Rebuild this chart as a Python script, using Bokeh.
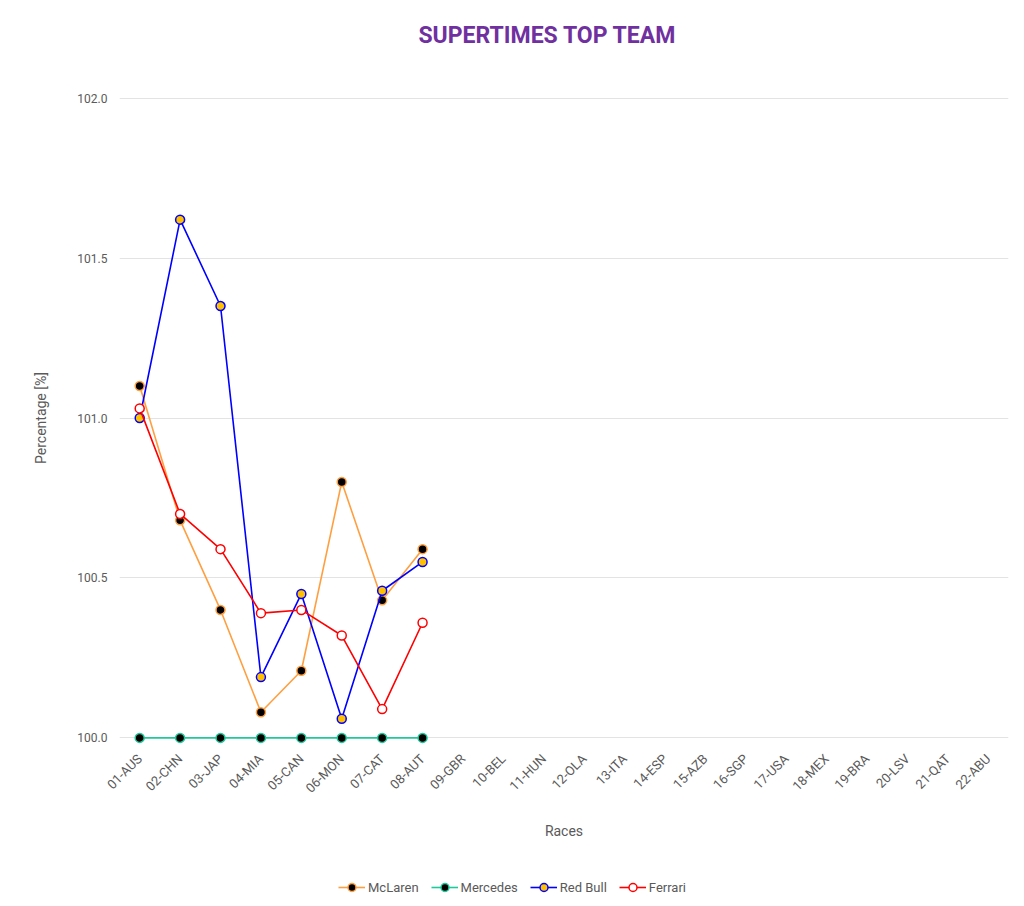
from bokeh.plotting import figure
from bokeh.layouts import column
from bokeh.models import (Range1d, FactorRange, FixedTicker, PrintfTickFormatter,
                          Legend, LegendItem, ColumnDataSource, Label)
from bokeh.embed import file_html
from bokeh.resources import INLINE

races = ["01-AUS", "02-CHN", "03-JAP", "04-MIA", "05-CAN", "06-MON", "07-CAT", "08-AUT",
         "09-GBR", "10-BEL", "11-HUN", "12-OLA", "13-ITA", "14-ESP", "15-AZB", "16-SGP",
         "17-USA", "18-MEX", "19-BRA", "20-LSV", "21-QAT", "22-ABU"]
done = races[:8]
mclaren = [101.10, 100.68, 100.40, 100.08, 100.21, 100.80, 100.43, 100.59]
mercedes = [100.0, 100.0, 100.0, 100.0, 100.0, 100.0, 100.0, 100.0]
redbull = [101.00, 101.62, 101.35, 100.19, 100.45, 100.06, 100.46, 100.55]
ferrari = [101.03, 100.70, 100.59, 100.39, 100.40, 100.32, 100.09, 100.36]
y_ticks = [100.0, 100.5, 101.0, 101.5, 102.0]
title_text = "SUPERTIMES TOP TEAM"

FONT = "Roboto"
GREY = "#5a5a5a"


def strip(h):
    f = figure(width=1016, height=h, x_range=FactorRange(*races), y_range=Range1d(0, 1),
               x_axis_type=None, y_axis_type=None, output_backend="svg",
               toolbar_location=None, min_border=0)
    f.outline_line_color = None
    f.xgrid.visible = False
    f.ygrid.visible = False
    return f


# title strip
tf = strip(60)
tf.add_layout(Label(x=428, y=25, x_units="screen", y_units="screen", text=title_text,
                    text_align="center", text_baseline="middle", text_font=FONT,
                    text_font_style="bold", text_font_size="23px", text_color="#7030A0"))

p = figure(frame_width=889, frame_height=659, x_range=FactorRange(*races),
           y_range=Range1d(99.97, 102.03), output_backend="svg",
           toolbar_location=None,
           min_border_left=119, min_border_right=8, min_border_top=28,
           min_border_bottom=120)

p.outline_line_color = None
p.xgrid.grid_line_color = None
p.ygrid.grid_line_color = "#e3e3e3"
p.ygrid.grid_line_width = 1

p.yaxis.ticker = FixedTicker(ticks=y_ticks)
p.yaxis.formatter = PrintfTickFormatter(format="%.1f")
for ax in (p.xaxis[0], p.yaxis[0]):
    ax.axis_line_color = None
    ax.major_tick_line_color = None
    ax.minor_tick_line_color = None
    ax.major_label_text_color = GREY
    ax.major_label_text_font = FONT
    ax.major_label_text_font_size = "12px"
    ax.axis_label_text_color = GREY
    ax.axis_label_text_font = FONT
    ax.axis_label_text_font_size = "14px"
    ax.axis_label_text_font_style = "normal"

p.xaxis.major_label_text_font_size = "13px"
p.yaxis.axis_label = "Percentage [%]"
p.yaxis.major_label_standoff = 6
p.yaxis.axis_label_standoff = 25
p.xaxis.axis_label = "Races"
p.xaxis.major_label_orientation = 0.785
p.xaxis.major_label_standoff = 3
p.xaxis.axis_label_standoff = 19

series = [
    ("McLaren", mclaren, "#FF9F40", "black", "#FF9F40"),
    ("Mercedes", mercedes, "#1FC99A", "black", "#1FC99A"),
    ("Red Bull", redbull, "#0000FF", "#FFC000", "#0000FF"),
    ("Ferrari", ferrari, "#FF0000", "white", "#FF0000"),
]

# legend strip below the chart (its own y-range hides the copies of the series)
lf = strip(39)

items = []
for name, vals, lc, fc, oc in series:
    src = ColumnDataSource(dict(x=done, y=vals))
    p.line("x", "y", source=src, line_color=lc, line_width=1.6)
    p.scatter("x", "y", source=src, size=9, fill_color=fc, line_color=oc, line_width=1.5)
    l2 = lf.line("x", "y", source=src, line_color=lc, line_width=1.6)
    s2 = lf.scatter("x", "y", source=src, size=8, fill_color=fc, line_color=oc, line_width=1.5)
    items.append(LegendItem(label=name, renderers=[l2, s2]))

legend = Legend(items=items, orientation="horizontal", location=(219, 9),
                label_text_font=FONT, label_text_font_size="13px", label_text_color=GREY,
                border_line_color=None, background_fill_alpha=0,
                glyph_width=27, glyph_height=20, label_standoff=3,
                spacing=12, margin=0, padding=0)
lf.add_layout(legend, "center")

layout = column(tf, p, lf, spacing=0)
open("out.html", "w").write(file_html(layout, INLINE))
